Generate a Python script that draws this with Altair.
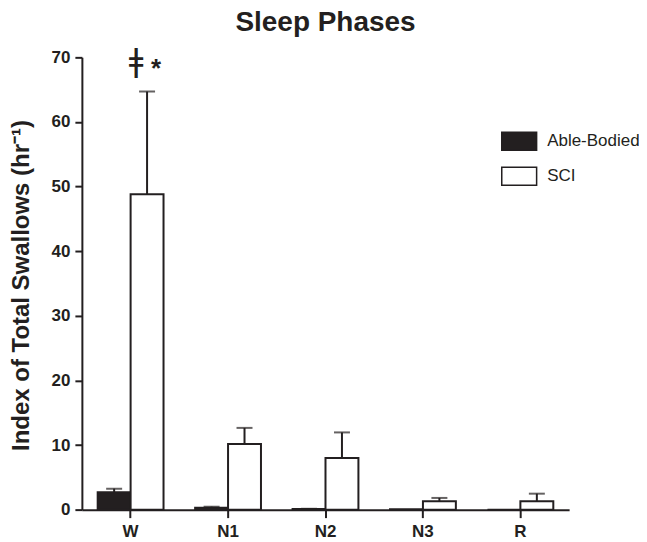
import altair as alt
import pandas as pd

phases = ["W", "N1", "N2", "N3", "R"]
groups = ["Able-Bodied", "SCI"]
ab_mean = [2.7, 0.3, 0.1, 0.05, 0.0]
ab_sem = [0.55, 0.15, 0.03, 0.0, 0.0]
sci_mean = [48.8, 10.15, 8.0, 1.28, 1.28]
sci_sem = [15.9, 2.5, 3.95, 0.53, 1.19]

rows = []
for i, p in enumerate(phases):
    rows.append({"phase": p, "group": groups[0], "mean": ab_mean[i], "top": ab_mean[i] + ab_sem[i], "sem": ab_sem[i]})
    rows.append({"phase": p, "group": groups[1], "mean": sci_mean[i], "top": sci_mean[i] + sci_sem[i], "sem": sci_sem[i]})
df = pd.DataFrame(rows)

ann = pd.DataFrame([{"phase": "W", "group": "SCI", "y": 69.0}])

INK = "#231f20"
FONT = "Liberation Sans"

x_enc = alt.X("phase:N", sort=phases, title=None,
              scale=alt.Scale(paddingInner=0, paddingOuter=0),
              axis=alt.Axis(labelAngle=0, labelFont=FONT, labelFontSize=17, labelFontWeight="bold",
                            labelColor=INK, tickSize=8, tickWidth=2, tickColor=INK,
                            domainWidth=2, domainColor=INK, labelPadding=6))
xo_enc = alt.XOffset("group:N", sort=groups, scale=alt.Scale(paddingInner=0, paddingOuter=0.48))

base = alt.Chart(df).encode(x=x_enc, xOffset=xo_enc)

bars = base.mark_bar(stroke=INK, strokeWidth=2).encode(
    y=alt.Y("mean:Q", scale=alt.Scale(domain=[0, 70], nice=False),
            axis=alt.Axis(values=list(range(0, 71, 10)), tickSize=7, tickWidth=2, tickColor=INK,
                          domainWidth=2, domainColor=INK, grid=False,
                          labelFont=FONT, labelFontSize=17, labelFontWeight="bold", labelColor=INK,
                          labelPadding=5,
                          title="Index of Total Swallows (hr\u207b\u00b9)",
                          titleFont=FONT, titleFontSize=24, titleFontWeight="bold", titleColor=INK,
                          titleX=-53, titleY=228, titleAngle=270, titleAlign="center",
                          titleBaseline="alphabetic")),
    fill=alt.Fill("group:N", sort=groups,
                  scale=alt.Scale(domain=groups, range=[INK, "white"]),
                  legend=alt.Legend(title=None, orient="none", legendX=428, legendY=74,
                                    symbolType="M-1.94,-1H1.94V1H-1.94Z", symbolSize=324,
                                    symbolStrokeColor=INK, symbolStrokeWidth=1.5,
                                    labelFont=FONT, labelFontSize=17, labelColor=INK,
                                    labelOffset=18, rowPadding=11)),
)

err = base.transform_filter("datum.sem > 0")
rules = err.mark_rule(color=INK, strokeWidth=2).encode(y="mean:Q", y2="top:Q")
caps = err.mark_tick(color=INK, thickness=2, size=16, orient="horizontal").encode(y="top:Q")

ann_base = alt.Chart(ann).encode(
    x=alt.X("phase:N", sort=phases),
    xOffset=alt.XOffset("group:N", sort=groups),
    y="y:Q",
)
dagger = ann_base.mark_text(text="\u01c2", font="DejaVu Sans", fontSize=32, color=INK, dx=-11,
                            dy=-3, baseline="middle")
star = ann_base.mark_text(text="*", font=FONT, fontSize=26, fontWeight="bold", color=INK, dx=9,
                          dy=5, baseline="middle")

chart = alt.layer(bars, rules, caps, dagger, star).properties(
    width=488, height=453,
    title=alt.TitleParams("Sleep Phases", font=FONT, fontSize=28, fontWeight="bold", color=INK,
                          anchor="middle", offset=8),
    autosize=alt.AutoSizeParams(type="none"),
    padding={"left": 74, "top": 49, "right": 70, "bottom": 32},
).configure_view(stroke=None)

chart.save("out.html", embed_options={"renderer": "svg", "actions": False})
